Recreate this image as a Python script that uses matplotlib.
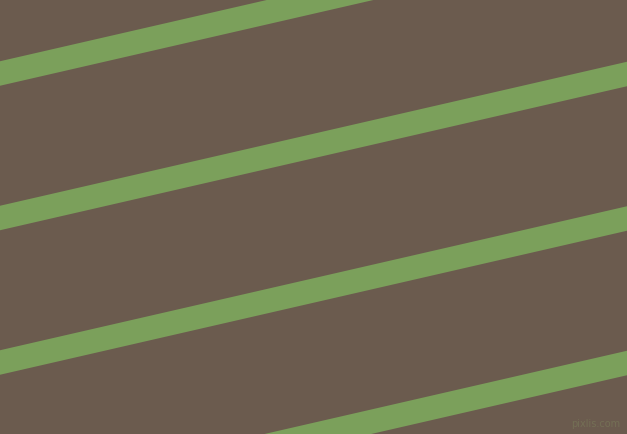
import matplotlib
matplotlib.use("Agg")
import matplotlib.pyplot as plt

# stripe centrelines, in pixel coords (y down): y at left edge and at right edge
stripe_y_left = [73.5, 218.0, 362.5, 507.0]
stripe_y_right = [-70.5, 74.0, 218.5, 363.0]
stripe_height = 24.5  # vertical thickness of a stripe

bg_color = "#6b5b4e"
stripe_color = "#7ba05b"

W, H = 627, 434

fig = plt.figure(figsize=(W / 100, H / 100), dpi=100)
ax = fig.add_axes([0, 0, 1, 1])
ax.set_facecolor(bg_color)
fig.patch.set_facecolor(bg_color)

half = stripe_height / 2
for yl, yr in zip(stripe_y_left, stripe_y_right):
    ax.fill([0, W, W, 0],
            [yl - half, yr - half, yr + half, yl + half],
            color=stripe_color, linewidth=0)

ax.text(620, 424, "pixlis.com", color="#746f55", fontsize=7,
        ha="right", va="center")

ax.set_xlim(0, W)
ax.set_ylim(H, 0)
ax.axis("off")

fig.savefig("out.png", dpi=100, facecolor=bg_color)
